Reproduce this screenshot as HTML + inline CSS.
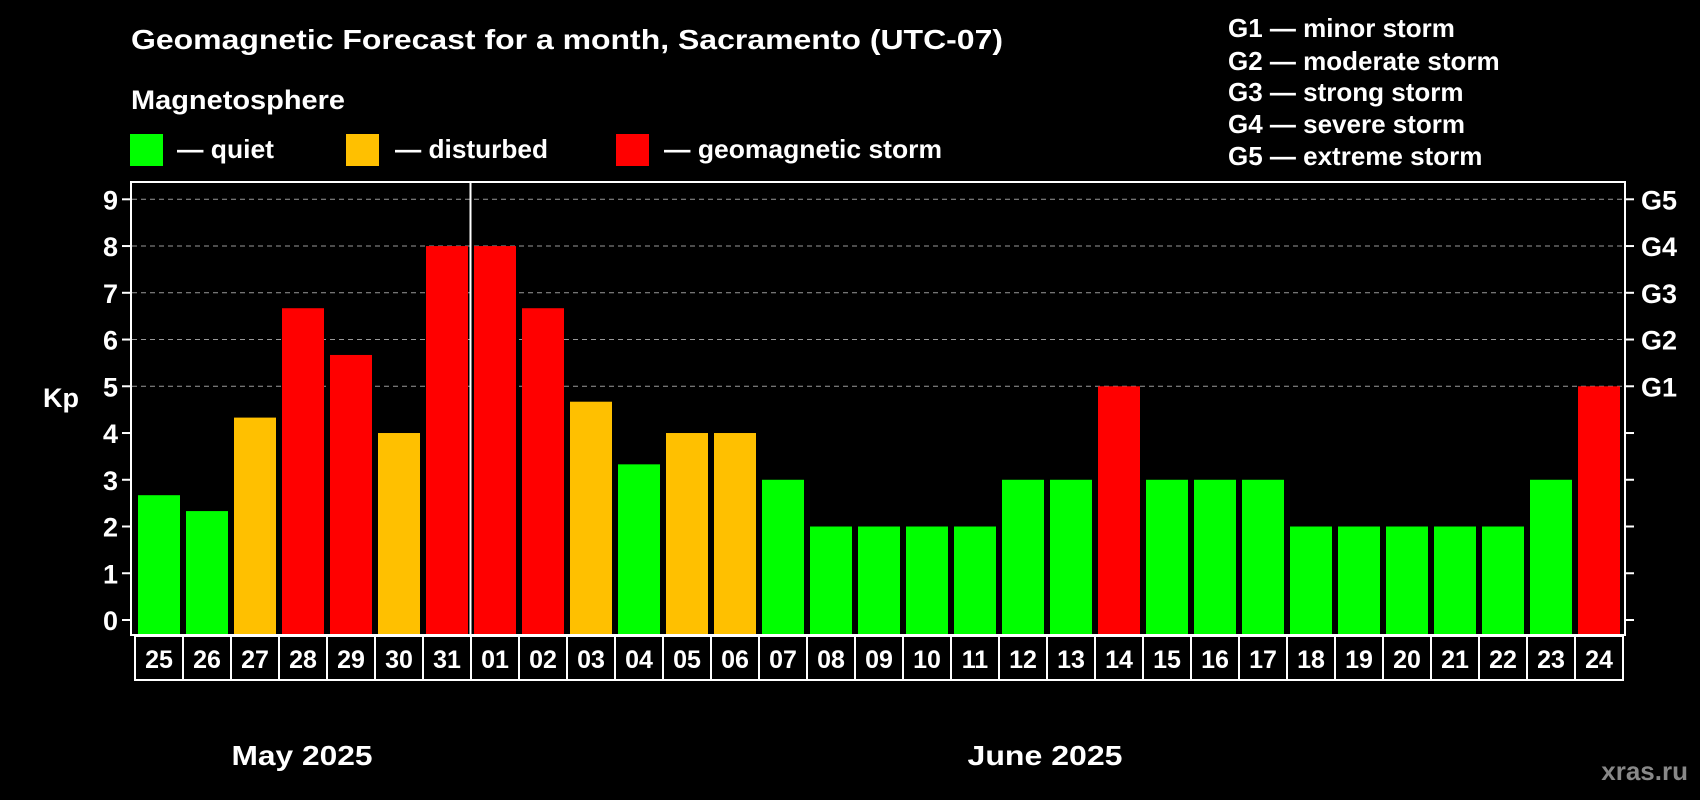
<!DOCTYPE html>
<html><head><meta charset="utf-8"><style>
html,body{margin:0;padding:0;background:#000;}
svg{display:block;font-family:"Liberation Sans",Arial,sans-serif;font-weight:bold;}
</style></head><body>
<svg id="chart" width="1700" height="800" viewBox="0 0 1700 800">
<rect x="0" y="0" width="1700" height="800" fill="#000"/>
<text x="131" y="49" fill="#fff" font-size="28" textLength="872" lengthAdjust="spacingAndGlyphs">Geomagnetic Forecast for a month, Sacramento (UTC-07)</text>
<text x="131" y="109" fill="#fff" font-size="27" textLength="214" lengthAdjust="spacingAndGlyphs">Magnetosphere</text>
<g>
<rect x="130" y="134" width="33" height="32" fill="#00ff00"/>
<text x="177" y="158" fill="#fff" font-size="26" textLength="97" lengthAdjust="spacingAndGlyphs">— quiet</text></g>
<g>
<rect x="346" y="134" width="33" height="32" fill="#ffc000"/>
<text x="395" y="158" fill="#fff" font-size="26" textLength="153" lengthAdjust="spacingAndGlyphs">— disturbed</text></g>
<g>
<rect x="616" y="134" width="33" height="32" fill="#ff0000"/>
<text x="664" y="158" fill="#fff" font-size="26" textLength="278" lengthAdjust="spacingAndGlyphs">— geomagnetic storm</text></g>
<g fill="#fff" font-size="26">
<text x="1228" y="37">G1 — minor storm</text>
<text x="1228" y="70">G2 — moderate storm</text>
<text x="1228" y="101">G3 — strong storm</text>
<text x="1228" y="133">G4 — severe storm</text>
<text x="1228" y="165">G5 — extreme storm</text>
</g>
<text x="43" y="407" fill="#fff" font-size="27">Kp</text>
<g id="grid"></g>
<g id="bars"></g>
<rect x="131" y="182" width="1494" height="453" fill="none" stroke="#fff" stroke-width="2"/>
<line x1="470.5" y1="182" x2="470.5" y2="635" stroke="#fff" stroke-width="2"/>
<g id="dates"></g>
<text x="302" y="765" fill="#fff" font-size="28" text-anchor="middle" textLength="141" lengthAdjust="spacingAndGlyphs">May 2025</text>
<text x="1045" y="765" fill="#fff" font-size="28" text-anchor="middle" textLength="155" lengthAdjust="spacingAndGlyphs">June 2025</text>
<text x="1688" y="780" fill="#888" font-size="26" text-anchor="end">xras.ru</text>
</svg>
<script>
const days = ["25","26","27","28","29","30","31","01","02","03","04","05","06","07","08","09","10","11","12","13","14","15","16","17","18","19","20","21","22","23","24"];
const kpValues = [2.67,2.33,4.33,6.67,5.67,4,8,8,6.67,4.67,3.33,4,4,3,2,2,2,2,3,3,5,3,3,3,2,2,2,2,2,3,5];
const yTicks = [0,1,2,3,4,5,6,7,8,9];
const gLabels = ["G1","G2","G3","G4","G5"];
const gLevels = [5,6,7,8,9];

const NS = "http://www.w3.org/2000/svg";
const y = v => 620 - v * (620 - 199.3) / 9;
const xBar = i => 138 + i * 48;
const xCell = i => 135 + i * 48;
function mk(tag, attrs, parent){const e=document.createElementNS(NS,tag);for(const k in attrs)e.setAttribute(k,attrs[k]);parent.appendChild(e);return e;}
function color(v){return v>=5?"#ff0000":(v>=4?"#ffc000":"#00ff00");}

const grid=document.getElementById("grid");
yTicks.forEach(t=>{
  const yy=y(t);
  if(t>=5){const l=mk("line",{x1:132,x2:1624,y1:yy,y2:yy,stroke:"#999","stroke-width":1,"stroke-dasharray":"5,4"},grid);
  
  }
  const a=mk("line",{x1:122,x2:131,y1:yy,y2:yy,stroke:"#fff","stroke-width":2},grid);
  
  
  const b=mk("line",{x1:1625,x2:1634,y1:yy,y2:yy,stroke:"#fff","stroke-width":2},grid);
  
  
  const tx=mk("text",{x:118,y:yy+10,fill:"#fff","font-size":27,"text-anchor":"end"},grid);
  tx.textContent=t;
  
  
});
gLabels.forEach((g,i)=>{
  const tx=mk("text",{x:1641,y:y(gLevels[i])+10,fill:"#fff","font-size":27},grid);
  tx.textContent=g;
  
  
});
const bars=document.getElementById("bars");
kpValues.forEach((v,i)=>{
  const r=mk("rect",{x:xBar(i),y:y(v),width:42,height:634-y(v),fill:color(v)},bars);
  
  
});
const dates=document.getElementById("dates");
days.forEach((d,i)=>{
  const r=mk("rect",{x:xCell(i),y:636,width:48,height:44,fill:"none",stroke:"#fff","stroke-width":2},dates);
  
  
  const t=mk("text",{x:xCell(i)+24,y:668,fill:"#fff","font-size":25,"text-anchor":"middle"},dates);
  t.textContent=d;
  
  
});
</script>
</body></html>
